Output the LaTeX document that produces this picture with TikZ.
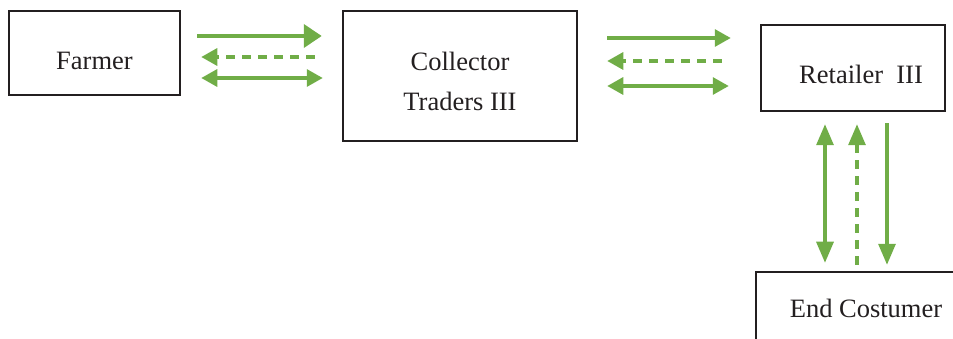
\documentclass[tikz,border=0pt]{standalone}
\usepackage{fontspec}
\setmainfont{Liberation Serif}
\usetikzlibrary{arrows.meta,calc}
\definecolor{flow}{HTML}{70AD47}
\definecolor{edge}{HTML}{231F20}
\tikzset{
  box/.style={draw=edge, text=edge, line width=2.5pt, inner sep=0pt, font=\fontsize{26.5}{40}\selectfont, align=center},
  tipH/.tip={Triangle[length=16pt,width=17pt]},
  tipV/.tip={Triangle[length=21pt,width=17pt]},
  tipBig/.tip={Triangle[length=18pt,width=23pt]},
  flowline/.style={draw=flow, line width=3.2pt},
  flowarrow/.style={flowline, -tipH},
  flowboth/.style={flowline, tipH-tipH},
  flowdash/.style={flowarrow, dash pattern=on 9pt off 7pt},
  vflowarrow/.style={flowline, -tipV},
  vflowboth/.style={flowline, tipV-tipV},
  vflowdash/.style={vflowarrow, dash pattern=on 9pt off 7pt}
}
\begin{document}
\begin{tikzpicture}[x=1pt,y=-1pt]
\useasboundingbox (0,0) rectangle (953,339);
\clip (0,0) rectangle (953,339);
\node[box, minimum width=171pt, minimum height=84pt, text height=34pt, text depth=0pt] (farmer) at (94.5,53) {Farmer};
\node[box, minimum width=234pt, minimum height=130pt] (collector) at (460,76) {\rule{0pt}{30pt}Collector\\Traders III};
\node[box, minimum width=184pt, minimum height=86pt, text height=32pt, text depth=0pt] (retailer) at (853,68) {\hspace*{16pt}Retailer\ \ III};
\node[box, minimum width=220pt, minimum height=72pt] (end) at (866,308) {End Costumer};
% Farmer -- Collector
\draw[flowline, line width=4pt, -tipBig] ($(farmer.east)+(16,-17)$) -- ($(farmer.east -| collector.west)+(-20,-17)$);
\draw[flowdash] ($(farmer.east -| collector.west)+(-27,4)$) -- ($(farmer.east)+(20,4)$);
\draw[flowboth] ($(farmer.east)+(20,25)$) -- ($(farmer.east -| collector.west)+(-19,25)$);
% Collector -- Retailer
\draw[flowarrow] ($(retailer.west -| collector.east)+(29,-30)$) -- ($(retailer.west)+(-29,-30)$);
\draw[flowdash] ($(retailer.west)+(-38,-7)$) -- ($(retailer.west -| collector.east)+(29,-7)$);
\draw[flowboth] ($(retailer.west -| collector.east)+(29,18)$) -- ($(retailer.west)+(-31,18)$);
% Retailer -- End
\draw[vflowboth] ($(retailer.south)+(-28,12)$) -- ($(retailer.south |- end.north)+(-28,-8)$);
\draw[vflowdash] ($(retailer.south |- end.north)+(4,-6)$) -- ($(retailer.south)+(4,12)$);
\draw[vflowarrow] ($(retailer.south)+(34,11)$) -- ($(retailer.south |- end.north)+(34,-6)$);
\end{tikzpicture}
\end{document}
